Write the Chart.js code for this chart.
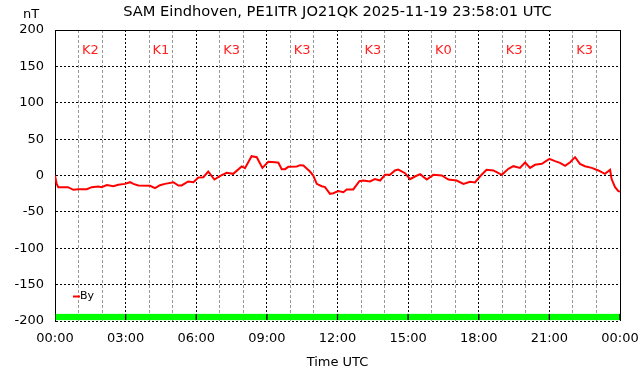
<!DOCTYPE html>
<html>
<head>
<meta charset="utf-8">
<title>SAM Eindhoven By</title>
<script src="https://cdn.jsdelivr.net/npm/chart.js@4.4.1/dist/chart.umd.min.js"></script>
<style>
  html, body { margin: 0; padding: 0; background: #fff; }
</style>
</head>
<body>
<canvas id="samChart" width="642" height="376"></canvas>
<script>
var hours = [0, 0.07, 0.14, 0.35, 0.55, 0.78, 0.99, 1.35, 1.56, 1.84, 1.98, 2.2, 2.48, 2.69, 2.97,
  3.19, 3.33, 3.54, 4.04, 4.25, 4.46, 4.67, 5.03, 5.24, 5.38, 5.66, 5.88, 6.09, 6.3, 6.51, 6.77,
  7.0, 7.29, 7.57, 7.93, 8.07, 8.35, 8.57, 8.81, 9.06, 9.35, 9.49, 9.63, 9.77, 9.91, 10.27, 10.41,
  10.55, 10.83, 10.97, 11.12, 11.33, 11.47, 11.68, 11.82, 12.03, 12.25, 12.39, 12.67, 12.93, 13.1,
  13.38, 13.59, 13.81, 14.02, 14.23, 14.44, 14.58, 14.87, 15.08, 15.29, 15.51, 15.79, 16.07, 16.43,
  16.71, 17.06, 17.35, 17.63, 17.84, 18.05, 18.33, 18.62, 18.76, 18.98, 19.26, 19.47, 19.75, 19.97,
  20.18, 20.39, 20.68, 21.0, 21.24, 21.45, 21.67, 21.88, 22.09, 22.3, 22.51, 22.8, 23.08, 23.36,
  23.58, 23.64, 23.79, 23.93, 24.0];
var byValues = [0, -11.5, -16, -16, -16, -19.7, -19, -18.8, -16, -15, -16, -13, -14.6, -12.8, -11.5,
  -9.2, -11.5, -13.7, -14.2, -17.4, -13.3, -11.5, -9.2, -13.7, -13.7, -8.2, -9.2, -2.7, -2.3, 5.5, -5.5,
  -0.9, 3.7, 2.3, 12.4, 10, 26.6, 25.2, 10.5, 18.8, 18.3, 17.5, 8.7, 8.7, 11.9, 12.4, 14.2,
  13.7, 5.5, 0, -11.5, -14.7, -16, -25.2, -24.3, -21.5, -22.9, -19.2, -19.2, -7.8, -6.9,
  -8.2, -5, -6.9, 0.9, 0.9, 6.9, 8.2, 3.2, -5, -1.4, 1.8, -5.5, 0.9, 0,
  -5.5, -6.9, -11.5, -8.7, -9.6, -1.4, 7.8, 6.9, 4.6, 0.9, 9.2, 12.8, 10.5, 17.9,
  10.5, 14.7, 16, 22.9, 19.7, 17.4, 13.3, 18.3, 25.2, 16, 12.8, 10.5, 6.9, 2.3,
  7.8, -4.6, -16, -21.5, -22];

// K-index per blok van 3 uur
var kHours = [1.5, 4.5, 7.5, 10.5, 13.5, 16.5, 19.5, 22.5];
var kIndex = [2, 1, 3, 3, 3, 0, 3, 3];
var kBar = [-199, -190];

var xTickLabels = ['00:00', '03:00', '06:00', '09:00', '12:00', '15:00', '18:00', '21:00', '00:00'];
var titleText = 'SAM Eindhoven, PE1ITR JO21QK 2025-11-19 23:58:01 UTC';

Chart.defaults.font.family = '"DejaVu Sans", sans-serif';
Chart.defaults.color = '#000';

// titel, nT, K-labels, legenda en kader
var decorations = {
  id: 'decorations',
  afterDraw: function(chart) {
    var ctx = chart.ctx;
    var area = chart.chartArea;
    var xs = chart.scales.x, ys = chart.scales.y;
    ctx.save();
    ctx.textBaseline = 'middle';
    ctx.textAlign = 'center';
    ctx.fillStyle = '#000';
    ctx.font = '14.67px "DejaVu Sans"';
    ctx.fillText(titleText, (area.left + area.right) / 2, 12);
    ctx.font = '13px "DejaVu Sans"';
    ctx.fillText('nT', 31, 15);

    ctx.fillStyle = '#ff2020';
    ctx.font = '13px "DejaVu Sans"';
    for (var i = 0; i < kHours.length; i++) {
      ctx.fillText('K' + kIndex[i], xs.getPixelForValue(kHours[i]), ys.getPixelForValue(172));
    }

    // legenda
    var ds = chart.data.datasets[0];
    var ly = Math.round(ys.getPixelForValue(-166)) + 0.5;
    ctx.strokeStyle = ds.borderColor;
    ctx.lineWidth = 2;
    ctx.beginPath();
    ctx.moveTo(area.left + 18, ly);
    ctx.lineTo(area.left + 25, ly);
    ctx.stroke();
    ctx.fillStyle = '#000';
    ctx.textAlign = 'left';
    ctx.font = '11px "DejaVu Sans"';
    ctx.fillText(ds.label, area.left + 25, ly);

    // kader boven en rechts
    ctx.strokeStyle = '#000';
    ctx.lineWidth = 1;
    ctx.beginPath();
    ctx.moveTo(area.left, Math.round(area.top) + 0.5);
    ctx.lineTo(Math.round(area.right) + 0.5, Math.round(area.top) + 0.5);
    ctx.lineTo(Math.round(area.right) + 0.5, area.bottom);
    ctx.stroke();
    ctx.restore();
  }
};

var ctx = document.getElementById('samChart');
var samChart = new Chart(ctx, {
  type: 'line',
  data: {
    datasets: [{
      type: 'line',
      label: 'By',
      data: hours.map(function(h, i) { return { x: h, y: byValues[i] }; }),
      borderColor: '#ff0000',
      borderWidth: 2,
      pointRadius: 0,
      tension: 0,
      order: 0
    }, {
      type: 'bar',
      label: 'K',
      data: kHours.map(function(h) { return { x: h, y: kBar }; }),
      backgroundColor: '#00ff00',
      borderColor: '#000',
      borderWidth: { left: 1, right: 1, top: 0, bottom: 0 },
      borderSkipped: false,
      barThickness: 'flex',
      barPercentage: 1,
      categoryPercentage: 1,
      order: 1
    }]
  },
  options: {
    responsive: false,
    animation: false,
    layout: { padding: { top: 30, right: 22, left: 0, bottom: 0 } },
    plugins: {
      legend: { display: false },
      tooltip: { enabled: false },
      title: { display: false }
    },
    scales: {
      x: {
        type: 'linear',
        min: 0,
        max: 24,
        offset: false,
        afterFit: function(scale) {
          scale.height = 55;
          scale.paddingLeft = 0;
          scale.paddingRight = 0;
        },
        ticks: {
          stepSize: 1,
          autoSkip: false,
          maxRotation: 0,
          padding: 10,
          font: { size: 13 },
          callback: function(v) { return v % 3 === 0 ? xTickLabels[v / 3] : ''; }
        },
        grid: {
          drawTicks: false,
          offset: false,
          lineWidth: 1,
          color: function(c) {
            if (!c.tick) return '#000';
            return c.tick.value % 3 === 0 ? '#000' : '#999';
          }
        },
        border: {
          display: false,
          dash: function(c) {
            if (!c.tick) return [];
            return c.tick.value % 3 === 0 ? [2, 2] : [3, 2];
          }
        },
        title: {
          display: true,
          text: 'Time UTC',
          font: { size: 13 },
          padding: { top: 0, bottom: 6 }
        }
      },
      y: {
        min: -200,
        max: 200,
        afterFit: function(scale) {
          scale.width = 55;
          scale.paddingTop = 0;
          scale.paddingBottom = 0;
        },
        ticks: {
          stepSize: 50,
          padding: 11,
          font: { size: 13 }
        },
        grid: {
          drawTicks: false,
          color: '#000',
          lineWidth: 1
        },
        border: {
          display: true,
          color: '#000',
          width: 1,
          dash: [2, 2]
        }
      }
    }
  },
  plugins: [decorations]
});
</script>
</body>
</html>
